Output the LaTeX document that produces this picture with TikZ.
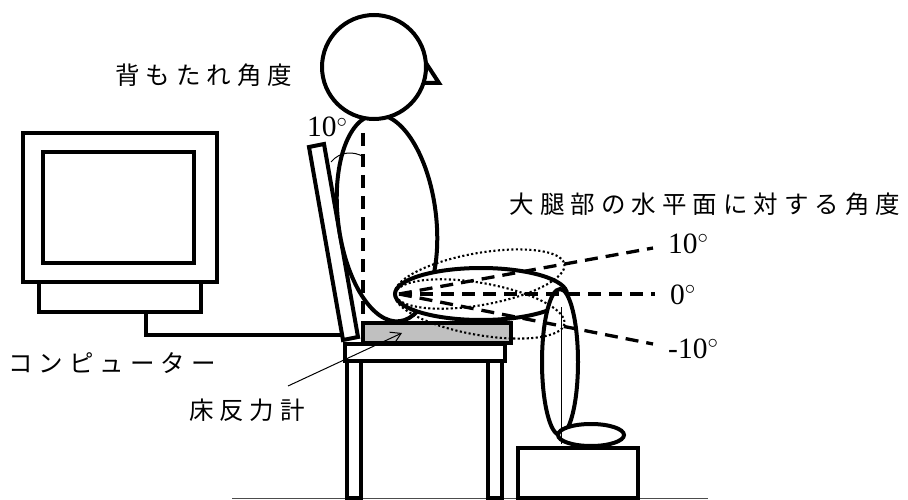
\documentclass[tikz,border=0pt]{standalone}
\usepackage{fontspec}
\setmainfont{Liberation Serif}
\newfontfamily\jpfont{Noto Sans CJK JP}
\usetikzlibrary{arrows.meta}
\definecolor{plategray}{HTML}{C0C0C0}
% put a small gap between the characters of a Japanese label
\newlength\jpgap
\setlength\jpgap{6pt}
\def\spacedaux#1{\ifx#1\relax\else#1\hspace{\jpgap}\expandafter\spacedaux\fi}
\newcommand\spaced[1]{\spacedaux#1\relax\hspace{-\jpgap}}
\begin{document}
\begin{tikzpicture}[x=1pt,y=-1pt,
  outline/.style={line width=4pt, line join=miter},
  thinline/.style={line width=1pt},
  guide/.style={line width=3.3pt, dash pattern=on 13pt off 8pt},
  tilt/.style={line width=2.1pt, dash pattern=on 2.1pt off 2.4pt},
  jp/.style={font=\jpfont\fontsize{24.5}{25}\selectfont, inner sep=0pt},
  deg/.style={font=\fontsize{29.5}{30}\selectfont, inner sep=0pt, anchor=base west}]
\useasboundingbox (0,0) rectangle (908,500);

% floor
\draw[line width=1pt, black!70] (232,498.5) -- (708,498.5);

% monitor with its stand and cable
\draw[outline] (23,133) rectangle (217,282);
\draw[outline] (43,152) rectangle (194,263);
\draw[outline] (39,282) rectangle (201,312);
\coordinate (cableA) at (146,312);
\coordinate (cableB) at (344,335);
\draw[outline] (cableA) |- (cableB);

% chair
\draw[outline, fill=white] (347,360) rectangle (361,498);
\draw[outline, fill=white] (488,360) rectangle (502,498);
\draw[outline, fill=white] (345,344) rectangle (505,361);
\draw[outline, fill=white] (309,147) -- (324,144) -- (358,337) -- (343,340) -- cycle;
% force plate on the seat
\draw[outline, fill=plategray] (363,323) rectangle (511,343);

% torso and head
\draw[outline, fill=white, rotate around={7:(387,218)}] (387,218) ellipse [x radius=49, y radius=104];
\draw[outline, fill=white] (424,60) -- (439,83) -- (422,83) -- cycle;
\draw[outline, fill=white] (374,67) circle [radius=52];

% backrest angle
\draw[guide] (363,133) -- (363,323);
\draw[thinline] (331,162) .. controls (340,151) and (354,151) .. (364,157);

% thigh, lower leg and foot
\coordinate (hip) at (395,294);
\draw[outline, fill=white] (481,294) ellipse [x radius=86, y radius=26];
\draw[outline, fill=white] (560,362) ellipse [x radius=18, y radius=73];
\draw[outline, fill=white] (518,448) rectangle (638,498);
\draw[outline, fill=white] (591,435) ellipse [x radius=33, y radius=11];
\draw[thinline] (561,307) -- (561,444);

% thigh tilted by +10 and -10 degrees
\draw[tilt, rotate around={10:(hip)}] (481,294) ellipse [x radius=86, y radius=26];
\draw[tilt, rotate around={-10:(hip)}] (481,294) ellipse [x radius=86, y radius=26];

% angle guides
\coordinate (pivot) at (399,294);
\coordinate (e10) at (653,248);
\coordinate (e0) at (655,294);
\coordinate (em10) at (653,344);
\draw[guide] (pivot) -- (e10);
\draw[guide] (pivot) -- (e0);
\draw[guide] (pivot) -- (em10);

% labels
\node[jp] (backlbl) at (207,75) {\spaced{背もたれ角度}};
\node[deg] (backdeg) at (307,137) {10$^\circ$};
\node[jp] (thighlbl) at (708,204) {\spaced{大腿部の水平面に対する角度}};
\node[deg] (d10) at (668,253) {10$^\circ$};
\node[deg] (d0) at (670,304) {0$^\circ$};
\node[deg] (dm10) at (668,358) {-10$^\circ$};
\node[jp] (pclbl) at (115,363) {\spaced{コンピューター}};
\node[jp] (fplbl) at (250,410) {\spaced{床反力計}};

% leader to the force plate
\coordinate (leadstart) at (288,386);
\coordinate (leadtip) at (402,333);
\draw[thinline, -{Straight Barb[length=10pt, width=12pt]}] (leadstart) -- (leadtip);
\end{tikzpicture}
\end{document}
